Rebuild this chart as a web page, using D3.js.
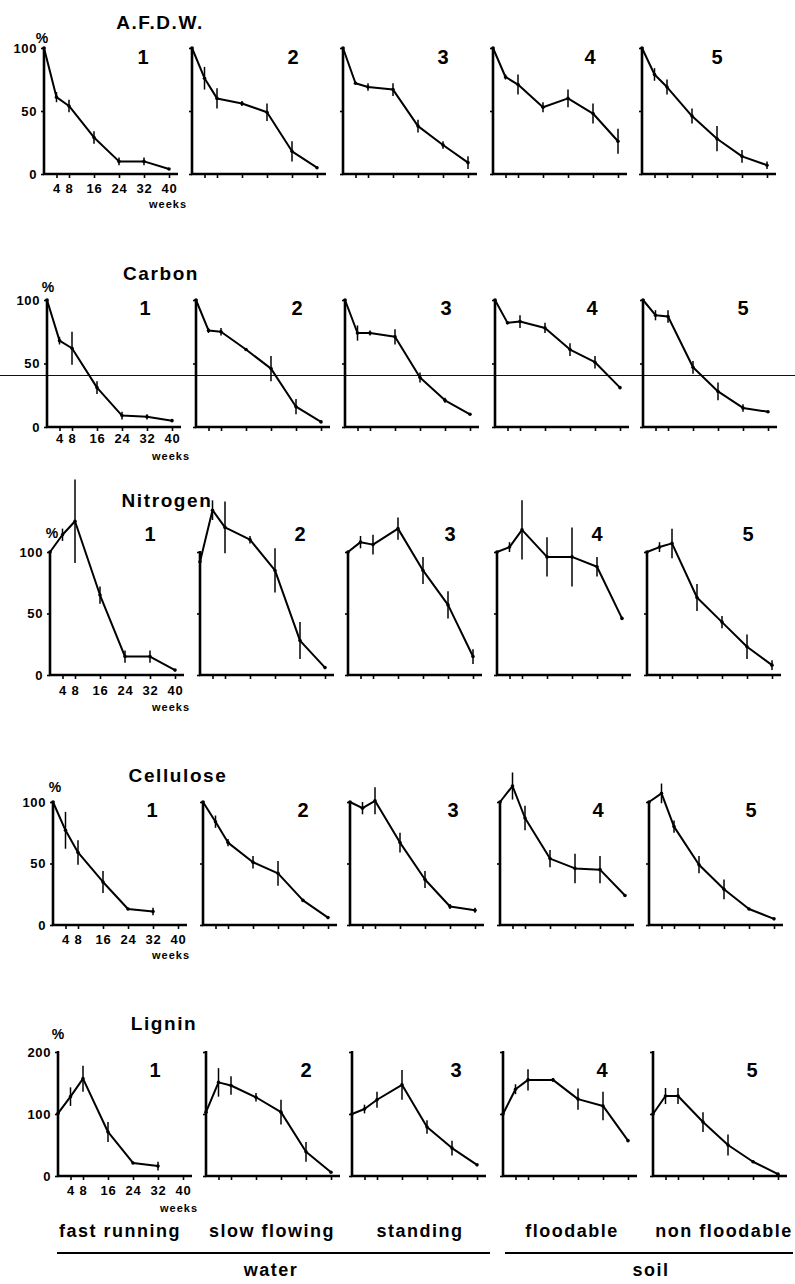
<!DOCTYPE html>
<html><head><meta charset="utf-8">
<script src="https://cdn.jsdelivr.net/npm/d3@7/dist/d3.min.js"></script>
<style>
body{margin:0;background:#fff}
svg{display:block}
text{font-family:"Liberation Sans",Arial,Helvetica,sans-serif;font-weight:bold;fill:#000}
</style>
</head><body>
<svg id="chart" width="795" height="1284"></svg>
<script>
// ---------- data ----------
const weeks = [0, 4, 8, 16, 24, 32, 40];
const xTickWeeks = [4, 8, 16, 24, 32, 40];
const components = ["A.F.D.W.", "Carbon", "Nitrogen", "Cellulose", "Lignin"];
const sites = ["1", "2", "3", "4", "5"];
const habitats = ["fast running", "slow flowing", "standing", "floodable", "non floodable"];
const groups = ["water", "soil"];
const yTicksPct = [0, 50, 100];
const yTicksLignin = [0, 100, 200];

const afdwMean = [
  [100, 61, 54, 29, 10, 10, 4],
  [100, 76, 60, 56, 49, 18, 5],
  [100, 72, 69, 67, 38, 23, 9],
  [100, 77, 71, 53, 60, 48, 26],
  [100, 79, 69, 46, 28, 14, 7]];
const afdwErr = [
  [0, 4, 5, 5, 3, 3, 0],
  [0, 9, 8, 2, 7, 8, 0],
  [0, 0, 3, 5, 5, 3, 5],
  [0, 2, 8, 4, 7, 8, 10],
  [0, 5, 6, 6, 10, 5, 3]];

const carbonMean = [
  [100, 68, 62, 31, 9, 8, 5],
  [100, 76, 75, 61, 46, 16, 4],
  [100, 74, 74, 71, 39, 21, 10],
  [100, 82, 83, 78, 61, 51, 31],
  [100, 88, 87, 47, 28, 15, 12]];
const carbonErr = [
  [0, 3, 13, 5, 3, 2, 0],
  [0, 2, 3, 0, 10, 6, 0],
  [0, 6, 2, 6, 4, 2, 0],
  [0, 0, 5, 4, 5, 5, 0],
  [0, 4, 5, 5, 7, 3, 0]];

const nitrogenMean = [
  [100, 114, 125, 65, 15, 15, 4],
  [92, 134, 120, 110, 85, 28, 6],
  [100, 108, 106, 119, 85, 57, 15],
  [100, 104, 118, 96, 96, 88, 46],
  [100, 104, 107, 63, 43, 23, 8]];
const nitrogenErr = [
  [0, 5, 34, 7, 5, 5, 0],
  [0, 8, 21, 3, 18, 15, 0],
  [0, 5, 8, 9, 11, 11, 6],
  [0, 4, 24, 16, 24, 8, 0],
  [0, 4, 12, 11, 5, 10, 4]];

const celluloseMean = [
  [100, 77, 59, 35, 13, 11, null],
  [100, 84, 67, 51, 42, 20, 6],
  [100, 95, 101, 67, 37, 15, 12],
  [100, 113, 87, 54, 46, 45, 24],
  [100, 107, 80, 49, 29, 13, 5]];
const celluloseErr = [
  [0, 15, 10, 9, 0, 3, 0],
  [0, 5, 3, 5, 10, 0, 0],
  [0, 5, 11, 8, 7, 2, 2],
  [0, 11, 10, 7, 12, 11, 0],
  [0, 8, 5, 7, 8, 0, 0]];

const ligninMean = [
  [101, 128, 157, 71, 21, 16, null],
  [103, 151, 146, 127, 103, 39, 6],
  [100, 108, 123, 147, 79, 45, 18],
  [100, 140, 155, 155, 124, 113, 57],
  [100, 129, 129, 87, 50, 23, 3]];
const ligninErr = [
  [0, 15, 21, 16, 0, 7, 0],
  [0, 23, 15, 7, 20, 16, 0],
  [0, 7, 13, 24, 11, 12, 0],
  [0, 8, 17, 3, 17, 23, 0],
  [0, 13, 13, 16, 17, 0, 0]];

const meansByRow = [afdwMean, carbonMean, nitrogenMean, celluloseMean, ligninMean];
const errsByRow = [afdwErr, carbonErr, nitrogenErr, celluloseErr, ligninErr];
const yTicksByRow = [yTicksPct, yTicksPct, yTicksPct, yTicksPct, yTicksLignin];

// ---------- layout ----------
const PANEL_W = 125;
const rowsLayout = [
  {yTop: 48,   yBot: 174,  x0: [44, 192, 343, 493, 642], title: [160, 22],  numY: 57,   numX: [143, 293, 443, 590, 717], pct: [42, 38],   weeks: [168, 204], pad: 6},
  {yTop: 300,  yBot: 427,  x0: [47, 196, 345, 495, 643], title: [161, 273], numY: 308,  numX: [145, 297, 446, 592, 743], pct: [48, 287],  weeks: [171, 456], pad: 3},
  {yTop: 552,  yBot: 675,  x0: [50, 200, 348, 497, 647], title: [167, 500], numY: 534,  numX: [150, 300, 450, 597, 748], pct: [52, 533],  weeks: [171, 707], pad: 7},
  {yTop: 802,  yBot: 925,  x0: [53, 203, 350, 500, 649], title: [178, 775], numY: 810,  numX: [152, 303, 453, 598, 751], pct: [55, 787],  weeks: [171, 955], pad: 6},
  {yTop: 1052, yBot: 1176, x0: [58, 206, 352, 503, 653], title: [164, 1023], numY: 1070, numX: [155, 306, 456, 602, 752], pct: [58, 1034], weeks: [179, 1208], pad: 6}
];

const svg = d3.select("#chart");

// faint scan line across the page
svg.append("line").attr("x1", 0).attr("x2", 795).attr("y1", 375.5).attr("y2", 375.5)
  .attr("stroke", "#111").attr("stroke-width", 1);

rowsLayout.forEach((L, r) => {
  const yTicks = yTicksByRow[r];
  const yMax = d3.max(yTicks);
  const y = d3.scaleLinear().domain([0, yMax]).range([L.yBot, L.yTop]);

  svg.append("text").attr("x", L.title[0]).attr("y", L.title[1])
    .attr("text-anchor", "middle").attr("dominant-baseline", "central")
    .style("font-size", "19px").style("letter-spacing", "1.6px").text(components[r]);

  svg.append("text").attr("x", L.pct[0]).attr("y", L.pct[1])
    .attr("text-anchor", "middle").attr("dominant-baseline", "central")
    .style("font-size", "14px").text("%");

  sites.forEach((s, c) => {
    const x0 = L.x0[c];
    const x = d3.scaleLinear().domain([0, 40]).range([x0, x0 + PANEL_W]);
    const g = svg.append("g");
    const first = c === 0;

    // x axis
    const xAxis = d3.axisBottom(x).tickValues(xTickWeeks).tickSize(4).tickSizeOuter(0).tickPadding(L.pad)
      .tickFormat(first ? d3.format("d") : () => "");
    const gx = g.append("g").attr("transform", `translate(0,${L.yBot})`).call(xAxis);
    gx.select(".domain").remove();
    gx.selectAll(".tick line").attr("stroke", "#000").attr("stroke-width", 1.6);
    gx.selectAll(".tick text").style("font-size", "13px").style("letter-spacing", "0.8px")
      .style("font-family", "'Liberation Sans',Arial,sans-serif").style("font-weight", "bold");
    g.append("line").attr("x1", x0 - 1).attr("x2", x(40) + 9).attr("y1", L.yBot).attr("y2", L.yBot)
      .attr("stroke", "#000").attr("stroke-width", 2.6);

    // y axis
    const yAxis = d3.axisLeft(y).tickValues(yTicks).tickSize(3).tickSizeOuter(0).tickPadding(4)
      .tickFormat(first ? d3.format("d") : () => "");
    const gy = g.append("g").attr("transform", `translate(${x0},0)`).call(yAxis);
    gy.select(".domain").remove();
    gy.selectAll(".tick line").attr("stroke", "#000").attr("stroke-width", 1.6);
    gy.selectAll(".tick text").style("font-size", "13px").style("letter-spacing", "0.6px")
      .style("font-family", "'Liberation Sans',Arial,sans-serif").style("font-weight", "bold");
    g.append("line").attr("x1", x0).attr("x2", x0).attr("y1", L.yBot + 1).attr("y2", y(yMax) - 1)
      .attr("stroke", "#000").attr("stroke-width", 2.6);

    // data
    const pts = weeks.map((w, i) => ({w, v: meansByRow[r][c][i], e: errsByRow[r][c][i]}));
    const line = d3.line().defined(d => d.v != null).x(d => x(d.w)).y(d => y(d.v));
    g.append("path").datum(pts).attr("d", line).attr("fill", "none")
      .attr("stroke", "#000").attr("stroke-width", 2).attr("stroke-linejoin", "round");

    const valid = pts.filter(d => d.v != null);
    g.selectAll(".err").data(valid.filter(d => d.e > 0)).enter().append("line")
      .attr("x1", d => x(d.w)).attr("x2", d => x(d.w))
      .attr("y1", d => y(d.v - d.e)).attr("y2", d => y(d.v + d.e))
      .attr("stroke", "#000").attr("stroke-width", 1.5);
    g.selectAll(".pt").data(valid).enter().append("circle")
      .attr("cx", d => x(d.w)).attr("cy", d => y(d.v)).attr("r", 1.8).attr("fill", "#000");

    // panel number
    svg.append("text").attr("x", L.numX[c]).attr("y", L.numY)
      .attr("text-anchor", "middle").attr("dominant-baseline", "central")
      .style("font-size", "20px").text(s);
  });

  svg.append("text").attr("x", L.weeks[0]).attr("y", L.weeks[1])
    .attr("text-anchor", "middle").attr("dominant-baseline", "central")
    .style("font-size", "11px").style("letter-spacing", "1px").text("weeks");
});

// bottom labels
const habitatX = [120, 272, 420, 572, 724];
habitats.forEach((h, i) => {
  svg.append("text").attr("x", habitatX[i]).attr("y", 1237).attr("text-anchor", "middle")
    .style("font-size", "18px").style("letter-spacing", "1.5px").text(h);
});
const groupSpans = [[57, 490], [505, 793]];
const groupX = [271, 651];
groups.forEach((gname, i) => {
  svg.append("line").attr("x1", groupSpans[i][0]).attr("x2", groupSpans[i][1])
    .attr("y1", 1253).attr("y2", 1253).attr("stroke", "#000").attr("stroke-width", 2);
  svg.append("text").attr("x", groupX[i]).attr("y", 1276).attr("text-anchor", "middle")
    .style("font-size", "18px").style("letter-spacing", "1.5px").text(gname);
});
</script>
</body></html>
